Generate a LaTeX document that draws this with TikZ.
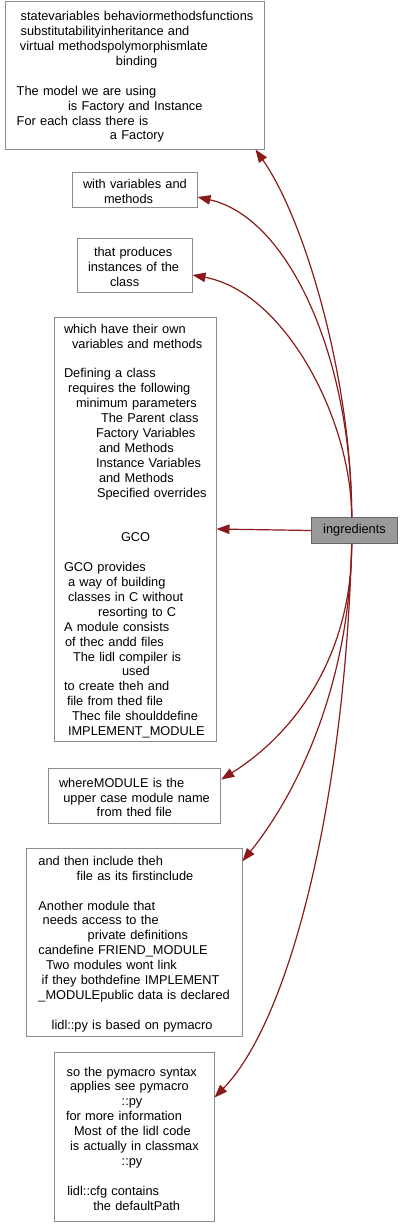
\documentclass[tikz,border=0pt]{standalone}
\usepackage{fontspec}
\setmainfont{Liberation Sans}
\usetikzlibrary{arrows.meta}
\definecolor{edgecol}{HTML}{8B1A1A}
\definecolor{boxline}{HTML}{8C8C8C}
\definecolor{ingfill}{HTML}{999999}
\definecolor{ingline}{HTML}{666666}
\newcommand{\rowtxt}[2]{\hspace*{#1pt}\mbox{#2}}
\tikzset{
  txtbox/.style={draw=boxline, fill=white, line width=1pt, inner sep=0pt,
    align=left, font=\fontsize{12.8}{14.9}\selectfont,
    execute at end node={\par\vspace*{-4pt}}},
  edge/.style={draw=edgecol, line width=1.2pt,
    -{Triangle[length=13pt,width=9.5pt]}},
}
\begin{document}
\begin{tikzpicture}[x=1pt,y=-1pt]
\useasboundingbox (0,0) rectangle (403,1226);

\node[txtbox, minimum width=259pt, minimum height=148pt, text width=259pt] (b1) at (134.5,75) {%
\rowtxt{15.7}{statevariables behaviormethodsfunctions}\\
\rowtxt{15.7}{substitutabilityinheritance and}\\
\rowtxt{15}{virtual methodspolymorphismlate}\\
\rowtxt{111}{binding}\\
\mbox{}\\
\rowtxt{11.7}{The model we are using}\\
\rowtxt{63}{is Factory and Instance}\\
\rowtxt{11.7}{For each class there is}\\
\rowtxt{105}{a Factory}};

\node[txtbox, minimum width=124.3pt, minimum height=35pt, text width=124.3pt] (b2) at (134.85,189.5) {%
\rowtxt{10.3}{with variables and}\\
\rowtxt{31.3}{methods}};

\node[txtbox, minimum width=115pt, minimum height=54pt, text width=115pt] (b3) at (134.5,265) {%
\rowtxt{17}{that produces}\\
\rowtxt{11}{instances of the}\\
\rowtxt{33}{class}};

\node[txtbox, minimum width=162pt, minimum height=424pt, text width=162pt] (b4) at (135,529) {%
\rowtxt{10}{which have their own}\\
\rowtxt{18}{variables and methods}\\
\mbox{}\\
\rowtxt{10}{Defining a class}\\
\rowtxt{14}{requires the following}\\
\rowtxt{22}{minimum parameters}\\
\rowtxt{47}{The Parent class}\\
\rowtxt{42}{Factory Variables}\\
\rowtxt{45}{and Methods}\\
\rowtxt{42}{Instance Variables}\\
\rowtxt{45}{and Methods}\\
\rowtxt{43}{Specified overrides}\\
\mbox{}\\
\mbox{}\\
\rowtxt{67}{GCO}\\
\mbox{}\\
\rowtxt{10}{GCO provides}\\
\rowtxt{14}{a way of building}\\
\rowtxt{14}{classes in C without}\\
\rowtxt{44}{resorting to C}\\
\rowtxt{10}{A module consists}\\
\rowtxt{11}{of thec andd files}\\
\rowtxt{19}{The lidl compiler is}\\
\rowtxt{68}{used}\\
\rowtxt{10}{to create theh and}\\
\rowtxt{13}{file from thed file}\\
\rowtxt{18}{Thec file shoulddefine}\\
\rowtxt{14}{IMPLEMENT\_MODULE}};

\node[txtbox, minimum width=172.4pt, minimum height=55pt, text width=172.4pt] (b5) at (134.5,795.5) {%
\rowtxt{10.7}{whereMODULE is the}\\
\rowtxt{15}{upper case module name}\\
\rowtxt{48.4}{from thed file}};

\node[txtbox, minimum width=215.3pt, minimum height=188pt, text width=215.3pt] (b6) at (134.35,942) {%
\rowtxt{11.7}{and then include theh}\\
\rowtxt{50}{file as its firstinclude}\\
\mbox{}\\
\rowtxt{11.7}{Another module that}\\
\rowtxt{16}{needs access to the}\\
\rowtxt{61}{private definitions}\\
\rowtxt{11.7}{candefine FRIEND\_MODULE}\\
\rowtxt{19.3}{Two modules wont link}\\
\rowtxt{15}{if they bothdefine IMPLEMENT}\\
\rowtxt{11.7}{\_MODULEpublic data is declared}\\
\mbox{}\\
\rowtxt{25}{lidl::py is based on pymacro}};

\node[txtbox, minimum width=160pt, minimum height=169pt, text width=160pt] (b7) at (134,1136.5) {%
\rowtxt{12.7}{so the pymacro syntax}\\
\rowtxt{16}{applies see pymacro}\\
\rowtxt{67.7}{::py}\\
\rowtxt{12}{for more information}\\
\rowtxt{20}{Most of the lidl code}\\
\rowtxt{16}{is actually in classmax}\\
\rowtxt{67.7}{::py}\\
\mbox{}\\
\rowtxt{13.3}{lidl::cfg contains}\\
\rowtxt{39.3}{the defaultPath}};

\node[draw=ingline, fill=ingfill, line width=1pt, inner sep=0pt,
  minimum width=85.6pt, minimum height=25.6pt,
  font=\fontsize{12.8}{14.9}\selectfont] (ing) at (354.5,530.5) {ingredients};

\draw[edge] ([xshift=-2.8pt]ing.north) .. controls (351.7,380) and (305,220) .. ([xshift=-9pt]b1.south east);
\draw[edge] ([xshift=-2.8pt]ing.north) .. controls (351.7,360) and (290,218) .. ([yshift=-7.5pt]b2.east);
\draw[edge] ([xshift=-2.8pt]ing.north) .. controls (351.7,420) and (285,292) .. ([yshift=-10pt]b3.east);
\draw[edge] (ing.west) -- (b4.east);
\draw[edge] ([xshift=-2.8pt]ing.south) .. controls (352,650) and (300,730) .. ([yshift=-12pt]b5.north east);
\draw[edge] ([xshift=-2.8pt]ing.south) .. controls (350,680) and (300,790) .. ([yshift=-13.7pt]b6.north east);
\draw[edge] ([xshift=-2.8pt]ing.south) .. controls (345,800) and (290,1020) .. ([yshift=-46pt]b7.north east);
\end{tikzpicture}
\end{document}
